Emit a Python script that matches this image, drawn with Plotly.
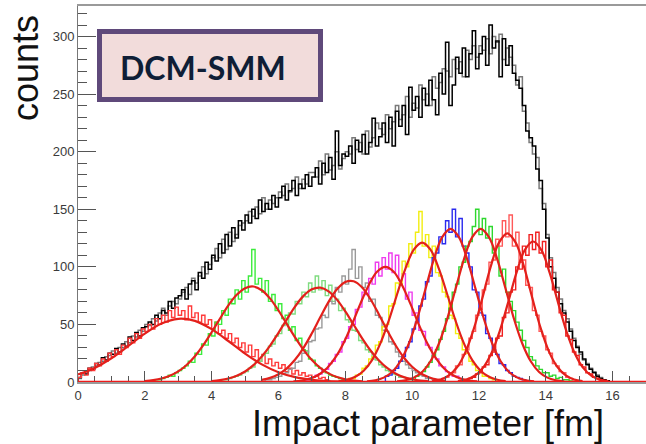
import numpy as np
import plotly.graph_objects as go

BIN = 0.1

# ---- total impact-parameter distribution (two overlaid histograms) ----
total_start = 0.0
total_black = [4, 8, 7, 12, 11, 16, 15, 21, 19, 25,
               24, 29, 26, 33, 31, 39, 36, 43, 40, 47,
               48, 52, 50, 58, 55, 62, 60, 70, 64, 73,
               75, 80, 72, 85, 88, 80, 95, 90, 104, 98,
               110, 105, 120, 112, 128, 118, 134, 125, 140, 132,
               145, 138, 150, 142, 158, 148, 155, 150, 162, 152,
               160, 170, 158, 166, 175, 162, 172, 168, 180, 170,
               178, 186, 172, 190, 182, 195, 176, 218, 188, 198,
               196, 205, 190, 210, 200, 215, 198, 208, 229, 205,
               213, 225, 208, 230, 205, 235, 222, 240, 215, 256,
               236, 248, 230, 255, 240, 262, 245, 232, 268, 250,
               295, 240, 258, 282, 268, 290, 265, 285, 305, 272,
               285, 300, 275, 310, 290, 296, 265, 298, 275, 292,
               268, 262, 255, 240, 218, 212, 205, 185, 175, 150,
               125, 100, 90, 78, 68, 60, 52, 44, 36, 30,
               26, 20, 15, 11, 8, 5, 3, 2, 1, 0]
total_grey = [3, 6, 9, 10, 13, 14, 17, 18, 22, 23,
              27, 25, 30, 30, 35, 34, 40, 39, 45, 44,
              50, 49, 55, 53, 60, 64, 58, 66, 70, 68,
              72, 78, 82, 76, 90, 86, 92, 100, 94, 102,
              108, 116, 108, 124, 115, 130, 122, 128, 136, 138,
              140, 148, 144, 152, 146, 160, 150, 158, 155, 160,
              165, 162, 172, 165, 168, 178, 168, 176, 172, 182,
              182, 178, 192, 180, 198, 184, 188, 200, 185, 194,
              200, 198, 212, 202, 208, 198, 218, 204, 212, 225,
              220, 215, 232, 220, 226, 240, 228, 232, 248, 230,
              242, 238, 258, 245, 250, 240, 265, 255, 260, 272,
              270, 265, 280, 272, 278, 265, 288, 280, 292, 282,
              292, 288, 298, 285, 300, 295, 302, 280, 290, 282,
              275, 258, 265, 235, 225, 208, 198, 195, 168, 155,
              128, 108, 95, 82, 72, 62, 55, 46, 38, 31,
              24, 19, 16, 12, 9, 6, 4, 2, 1, 0]

# ---- centrality-class histograms (start of first bin, counts per 0.1 fm) ----
class_colors = ["#ff3a3a", "#3cec3c", "#80dc80", "#9a9a9a", "#ee3cee",
                "#f2ee10", "#2a2aee", "#2ed82e", "#ff5a5a", "#f02020"]
class_starts = [0.0, 2.2, 4.2, 5.6, 6.8, 8.1, 9.2, 10.1, 10.9, 11.7]
class_counts = [
    [4, 8, 6, 12, 10, 16, 14, 20, 18, 25, 22, 28, 24, 32, 30, 38, 34, 42, 38, 46,
     44, 50, 46, 55, 50, 58, 52, 62, 56, 65, 58, 62, 54, 66, 56, 60, 52, 58, 50, 54,
     46, 52, 42, 45, 38, 42, 34, 38, 30, 34, 26, 32, 22, 28, 18, 24, 16, 20, 14, 17,
     12, 15, 9, 12, 7, 10, 6, 8, 5, 6, 4, 5, 3, 4, 2],
    [1, 2, 2, 3, 4, 6, 5, 8, 10, 12, 14, 18, 17, 25, 24, 33, 32, 42, 40, 52,
     50, 62, 58, 72, 68, 80, 72, 88, 78, 92, 115, 85, 90, 78, 88, 70, 76, 62, 68, 55,
     58, 45, 48, 36, 38, 28, 27, 20, 19, 14, 12, 9, 8, 6, 5, 4, 3, 2, 2, 1],
    [1, 2, 2, 3, 4, 5, 6, 8, 9, 12, 13, 17, 18, 23, 25, 31, 33, 40, 42, 49,
     51, 60, 59, 70, 68, 78, 74, 86, 78, 92, 80, 88, 75, 84, 70, 72, 62, 64, 54, 52,
     45, 44, 36, 34, 28, 26, 20, 19, 15, 13, 10, 9, 7, 6, 4, 4, 3, 2, 2, 1],
    [2, 2, 3, 4, 5, 7, 8, 11, 12, 17, 18, 25, 26, 35, 36, 46, 47, 58, 56, 70,
     68, 82, 78, 92, 85, 98, 115, 90, 100, 82, 86, 70, 72, 58, 56, 45, 44, 35, 33, 26,
     22, 18, 15, 12, 10, 8, 6, 5, 3, 3, 2, 1],
    [2, 3, 4, 6, 7, 10, 11, 16, 18, 24, 26, 35, 38, 48, 50, 63, 65, 78, 76, 90,
     85, 104, 92, 108, 98, 112, 95, 110, 88, 94, 72, 78, 58, 60, 45, 44, 32, 30, 22, 20,
     14, 13, 9, 8, 5, 5, 3, 2],
    [3, 3, 6, 7, 12, 14, 20, 22, 32, 35, 48, 50, 66, 68, 86, 85, 105, 100, 120, 112,
     130, 148, 118, 128, 108, 118, 95, 92, 78, 74, 58, 55, 42, 38, 28, 25, 18, 15, 10, 9,
     5, 5, 3, 2, 1],
    [5, 6, 10, 12, 18, 22, 30, 35, 46, 52, 66, 72, 87, 92, 108, 112, 126, 120, 140, 130,
     150, 126, 142, 118, 112, 100, 80, 78, 60, 58, 42, 38, 28, 24, 16, 15, 10, 8, 5, 4,
     3, 2, 1],
    [5, 7, 9, 13, 17, 23, 28, 37, 44, 55, 64, 78, 85, 100, 104, 118, 122, 135, 150, 128,
     142, 125, 135, 112, 118, 92, 98, 78, 70, 62, 52, 45, 36, 30, 22, 19, 14, 11, 8, 8,
     5, 6, 3, 4, 2, 2, 1],
    [3, 4, 7, 8, 14, 15, 24, 28, 38, 44, 58, 63, 80, 85, 104, 106, 124, 118, 140, 126,
     145, 118, 130, 104, 106, 84, 82, 62, 58, 44, 40, 28, 25, 16, 14, 9, 8, 4, 3, 2, 1],
    [3, 4, 7, 8, 13, 15, 23, 26, 38, 40, 56, 60, 78, 80, 100, 98, 118, 110, 128, 115,
     130, 112, 122, 100, 106, 80, 78, 60, 58, 40, 37, 26, 23, 15, 13, 8, 7, 4, 3, 2],
]

# ---- Gaussian fit curves, sampled (b [fm], counts) ----
fit_x = [
    [0.0, 0.5, 1.0, 1.5, 2.0, 2.5, 3.0, 3.5, 4.0, 4.5, 5.0, 5.5, 6.0, 6.5, 7.0, 7.5, 8.0],
    [2.0, 2.25, 2.5, 2.75, 3.0, 3.25, 3.5, 3.75, 4.0, 4.25, 4.5, 4.75, 5.0, 5.25, 5.5,
     5.75, 6.0, 6.25, 6.5, 6.75, 7.0, 7.25, 7.5, 7.75, 8.0, 8.25, 8.5],
    [4.0, 4.25, 4.5, 4.75, 5.0, 5.25, 5.5, 5.75, 6.0, 6.25, 6.5, 6.75, 7.0, 7.25, 7.5,
     7.75, 8.0, 8.25, 8.5, 8.75, 9.0, 9.25, 9.5, 9.75, 10.0, 10.25, 10.5],
    [5.5, 5.75, 6.0, 6.25, 6.5, 6.75, 7.0, 7.25, 7.5, 7.75, 8.0, 8.25, 8.5, 8.75, 9.0,
     9.25, 9.5, 9.75, 10.0, 10.25, 10.5, 10.75, 11.0],
    [6.45, 6.7, 6.95, 7.2, 7.45, 7.7, 7.95, 8.2, 8.45, 8.7, 8.95, 9.2, 9.45, 9.7, 9.95,
     10.2, 10.45, 10.7, 10.95, 11.2, 11.45, 11.7, 11.95],
    [7.8, 8.05, 8.3, 8.55, 8.8, 9.05, 9.3, 9.55, 9.8, 10.05, 10.3, 10.55, 10.8, 11.05,
     11.3, 11.55, 11.8, 12.05, 12.3, 12.55, 12.8],
    [8.65, 8.9, 9.15, 9.4, 9.65, 9.9, 10.15, 10.4, 10.65, 10.9, 11.15, 11.4, 11.65, 11.9,
     12.15, 12.4, 12.65, 12.9, 13.15, 13.4, 13.65],
    [9.55, 9.8, 10.05, 10.3, 10.55, 10.8, 11.05, 11.3, 11.55, 11.8, 12.05, 12.3, 12.55,
     12.8, 13.05, 13.3, 13.55, 13.8, 14.05, 14.3, 14.55],
    [10.6, 10.85, 11.1, 11.35, 11.6, 11.85, 12.1, 12.35, 12.6, 12.85, 13.1, 13.35, 13.6,
     13.85, 14.1, 14.35, 14.6, 14.85, 15.1],
    [11.37, 11.62, 11.87, 12.12, 12.37, 12.62, 12.87, 13.12, 13.37, 13.62, 13.87, 14.12,
     14.37, 14.62, 14.87, 15.12, 15.37, 15.62, 15.87],
]
fit_y = [
    [6.5, 12.2, 20.6, 31.1, 42.0, 50.8, 54.9, 53.1, 45.9, 35.6, 24.7, 15.3, 8.5, 4.2, 1.9, 0.7, 0.3],
    [0.8, 1.6, 3.0, 5.5, 9.2, 14.8, 22.4, 32.0, 43.2, 55.1, 66.5, 75.7, 81.5, 82.9, 79.7,
     72.4, 62.1, 50.3, 38.6, 27.9, 19.1, 12.3, 7.5, 4.3, 2.4, 1.2, 0.6],
    [0.8, 1.6, 3.0, 5.4, 9.1, 14.6, 22.1, 31.6, 42.7, 54.4, 65.7, 74.8, 80.5, 81.9, 78.7,
     71.5, 61.3, 49.7, 38.1, 27.6, 18.9, 12.2, 7.4, 4.2, 2.4, 1.2, 0.6],
    [1.8, 3.6, 6.8, 11.9, 19.5, 29.7, 42.3, 56.2, 69.6, 80.5, 86.9, 87.5, 82.2, 72.1, 59.0,
     45.0, 32.1, 21.3, 13.2, 7.6, 4.1, 2.1, 1.0],
    [0.5, 1.3, 3.0, 6.3, 12.0, 21.1, 33.9, 50.0, 67.8, 84.1, 95.8, 100, 95.8, 84.1, 67.8,
     50.0, 33.9, 21.1, 12.0, 6.3, 3.0, 1.3, 0.5],
    [0.7, 1.9, 4.5, 9.8, 19.0, 33.5, 53.2, 76.2, 98.5, 114.9, 121, 114.9, 98.5, 76.2, 53.2,
     33.5, 19.0, 9.8, 4.5, 1.9, 0.7],
    [0.5, 1.5, 3.8, 8.7, 18.0, 33.2, 54.7, 80.7, 106.5, 125.8, 133, 125.8, 106.5, 80.7,
     54.7, 33.2, 18.0, 8.7, 3.8, 1.5, 0.5],
    [0.5, 1.5, 3.8, 8.7, 18.0, 33.2, 54.7, 80.7, 106.5, 125.8, 133, 125.8, 106.5, 80.7,
     54.7, 33.2, 18.0, 8.7, 3.8, 1.5, 0.5],
    [0.7, 2.2, 5.7, 13.0, 26.2, 46.5, 72.6, 100.0, 121.0, 129, 121.0, 100.0, 72.6, 46.5,
     26.2, 13.0, 5.7, 2.2, 0.7],
    [0.7, 2.1, 5.4, 12.3, 24.8, 44.0, 68.7, 94.5, 114.5, 122, 114.5, 94.5, 68.7, 44.0,
     24.8, 12.3, 5.4, 2.1, 0.7],
]

x_ticks = [0, 2, 4, 6, 8, 10, 12, 14, 16]
y_ticks = [0, 50, 100, 150, 200, 250, 300]


def step_xy(start, counts):
    edges = start + BIN * np.arange(len(counts) + 1)
    xs = np.concatenate([[edges[0]], edges[:-1], [edges[-1]]])
    ys = np.concatenate([[0], np.asarray(counts, float), [0]])
    return xs, ys


fig = go.Figure()

for vals, col, w in [(total_grey, "#7a7a7a", 1.5), (total_black, "#000000", 1.5)]:
    xs, ys = step_xy(total_start, vals)
    fig.add_trace(go.Scatter(x=xs, y=ys, mode="lines", line=dict(color=col, width=w, shape="hv"),
                             hoverinfo="skip", showlegend=False))

for st, cnt, col in zip(class_starts, class_counts, class_colors):
    xs, ys = step_xy(st, cnt)
    fig.add_trace(go.Scatter(x=xs, y=ys, mode="lines", line=dict(color=col, width=1.4, shape="hv"),
                             hoverinfo="skip", showlegend=False))

for fx, fy in zip(fit_x, fit_y):
    fig.add_trace(go.Scatter(x=fx, y=fy, mode="lines",
                             line=dict(color="#e3201b", width=2.2, shape="spline", smoothing=1.0),
                             hoverinfo="skip", showlegend=False))

L, T, W, H = 78, 6, 568, 376


def px(x):
    return (x - L) / W


def py(y):
    return (T + H - y) / H


tickfont = dict(family="Liberation Sans", size=13, color="#3a3a3a")

fig.update_layout(
    width=646, height=444,
    margin=dict(l=L, r=646 - L - W, t=T, b=444 - T - H, pad=0),
    paper_bgcolor="white", plot_bgcolor="white",
    showlegend=False,
    xaxis=dict(range=[0, 17.0], tickvals=x_ticks, ticks="inside", ticklen=11, tickwidth=1,
               tickcolor="#555555", minor=dict(dtick=0.5, tick0=0, ticks="inside", ticklen=6,
                                               tickcolor="#555555", tickwidth=1),
               showline=True, linecolor="#9a9a9a", linewidth=2, mirror=True,
               showgrid=False, zeroline=False, tickfont=tickfont),
    yaxis=dict(range=[0, 326.5], tickvals=y_ticks, ticks="inside", ticklen=18, tickwidth=1,
               tickcolor="#555555", minor=dict(dtick=10, tick0=0, ticks="inside", ticklen=9,
                                               tickcolor="#555555", tickwidth=1),
               showline=True, linecolor="#777777", linewidth=1,
               showgrid=False, zeroline=False, tickfont=tickfont),
    shapes=[
        dict(type="line", xref="paper", yref="y", x0=0, x1=1, y0=0, y1=0,
             line=dict(color="#ee1a1a", width=2.5), layer="above"),
        dict(type="rect", xref="paper", yref="paper",
             x0=px(99.5), x1=px(320.5), y0=py(99.5), y1=py(31.5),
             fillcolor="#f2dcdb", line=dict(color="#5f497a", width=5), layer="above"),
    ],
    annotations=[
        dict(text="DCM-SMM", xref="paper", yref="paper", x=px(202.5), y=py(67),
             xanchor="center", yanchor="middle", showarrow=False,
             font=dict(family="Lato", size=32, color="#0f1e36", weight="bold")),
        dict(text="counts", xref="paper", yref="paper", x=px(25), y=py(68),
             xanchor="center", yanchor="middle", showarrow=False, textangle=-90,
             font=dict(family="Liberation Sans", size=36, color="#111111")),
        dict(text="Impact parameter [fm]", xref="paper", yref="paper", x=px(606), y=py(423),
             xanchor="right", yanchor="middle", showarrow=False,
             font=dict(family="Liberation Sans", size=36, color="#111111")),
    ],
)

fig.write_html("out.html")
